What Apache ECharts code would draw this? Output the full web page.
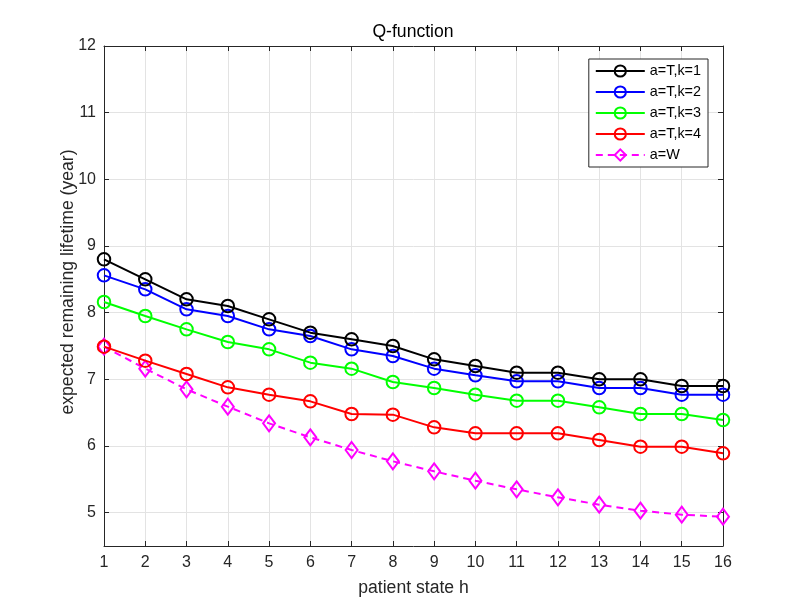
<!DOCTYPE html>
<html>
<head>
<meta charset="utf-8">
<script src="https://cdn.jsdelivr.net/npm/echarts@6/dist/echarts.min.js"></script>
<style>
html,body{margin:0;padding:0;background:#fff;}
#chart{width:798px;height:614px;}
</style>
</head>
<body>
<div id="chart"></div>
<script>
var states = [1,2,3,4,5,6,7,8,9,10,11,12,13,14,15,16];
var seriesNames = ['a=T,k=1','a=T,k=2','a=T,k=3','a=T,k=4','a=W'];
var k1 = [8.8, 8.5, 8.2, 8.1, 7.9, 7.7, 7.6, 7.5, 7.3, 7.2, 7.1, 7.1, 7.0, 7.0, 6.9, 6.9];
var k2 = [8.56, 8.35, 8.05, 7.95, 7.75, 7.65, 7.45, 7.35, 7.16, 7.06, 6.97, 6.97, 6.87, 6.87, 6.77, 6.77];
var k3 = [8.16, 7.95, 7.75, 7.56, 7.45, 7.25, 7.16, 6.96, 6.87, 6.77, 6.68, 6.68, 6.58, 6.48, 6.48, 6.39];
var k4 = [7.49, 7.28, 7.08, 6.88, 6.77, 6.67, 6.48, 6.47, 6.28, 6.19, 6.19, 6.19, 6.09, 5.99, 5.99, 5.89];
var aW = [7.49, 7.16, 6.85, 6.59, 6.34, 6.13, 5.94, 5.77, 5.62, 5.48, 5.35, 5.23, 5.12, 5.03, 4.97, 4.94];
var yTicks = [5,6,7,8,9,10,11,12];

var colors = ['#000000','#0000ff','#00ff00','#ff0000','#ff00ff'];
var allData = [k1,k2,k3,k4,aW];
var font = 'Liberation Sans, Arial, Helvetica, sans-serif';

function pairs(arr){ return states.map(function(s,i){ return [s, arr[i]]; }); }

var series = allData.map(function(d, i){
  var isW = i === 4;
  return {
    name: seriesNames[i],
    type: 'line',
    data: pairs(d),
    symbol: isW ? 'diamond' : 'circle',
    symbolSize: isW ? [12, 16] : 12.5,
    lineStyle: {color: colors[i], width: 2, type: isW ? [7,5] : 'solid'},
    itemStyle: {color: 'rgba(255,255,255,0)', borderColor: colors[i], borderWidth: 2},
    emphasis: {disabled: true},
    animation: false,
    z: 10 - i
  };
});

var chart = echarts.init(document.getElementById('chart'));
chart.setOption({
  backgroundColor: '#ffffff',
  animation: false,
  title: {
    text: 'Q-function', left: 408, textAlign: 'center', top: 18,
    textStyle: {fontFamily: font, fontSize: 17.6, fontWeight: 'normal', color: '#000'}
  },
  legend: {
    orient: 'vertical', right: 90, top: 59,
    backgroundColor: '#fff', borderColor: '#262626', borderWidth: 1,
    padding: [5, 7, 5, 6], itemGap: 7,
    itemWidth: 49, itemHeight: 14,
    textStyle: {fontFamily: font, fontSize: 14.4, color: '#000'},
    data: seriesNames
  },
  grid: {left: 104, right: 75, top: 46, bottom: 68, containLabel: false},
  xAxis: [{
    type: 'value', min: 1, max: 16, interval: 1,
    name: 'patient state h', nameLocation: 'middle', nameGap: 33, nameMoveOverlap: false,
    nameTextStyle: {fontFamily: font, fontSize: 17.6, color: '#262626'},
    axisLine: {show: true, onZero: false, lineStyle: {color: '#262626', width: 1}},
    axisTick: {show: true, inside: true, length: 5, lineStyle: {color: '#262626'}},
    axisLabel: {fontFamily: font, fontSize: 16, color: '#262626', margin: 9},
    splitLine: {show: true, lineStyle: {color: '#e3e3e3', width: 1}}
  },{
    type: 'value', min: 1, max: 16, interval: 1, position: 'top',
    axisLine: {show: true, onZero: false, lineStyle: {color: '#262626', width: 1}},
    axisTick: {show: true, inside: true, length: 5, lineStyle: {color: '#262626'}},
    axisLabel: {show: false}, splitLine: {show: false}
  }],
  yAxis: [{
    type: 'value', min: 4.5, max: 12,
    name: 'expected remaining lifetime (year)', nameLocation: 'middle', nameGap: 27, nameMoveOverlap: false,
    nameTextStyle: {fontFamily: font, fontSize: 17.6, color: '#262626', padding: [0, 0, 0, 28]},
    axisLine: {show: true, onZero: false, lineStyle: {color: '#262626', width: 1}},
    axisTick: {show: true, inside: true, length: 5, customValues: yTicks, lineStyle: {color: '#262626'}},
    axisLabel: {fontFamily: font, fontSize: 16, color: '#262626', margin: 8, customValues: yTicks},
    splitLine: {show: true, lineStyle: {color: '#e3e3e3', width: 1}}
  },{
    type: 'value', min: 4.5, max: 12, position: 'right',
    axisLine: {show: true, onZero: false, lineStyle: {color: '#262626', width: 1}},
    axisTick: {show: true, inside: true, length: 5, customValues: yTicks, lineStyle: {color: '#262626'}},
    axisLabel: {show: false}, splitLine: {show: false}
  }],
  series: series
});
</script>
</body>
</html>
